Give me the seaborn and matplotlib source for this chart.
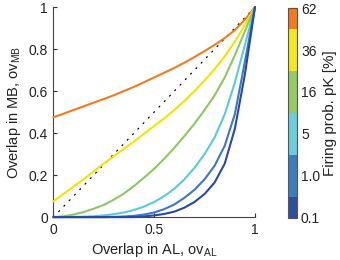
import numpy as np
import pandas as pd
import matplotlib
matplotlib.use("Agg")
import matplotlib.pyplot as plt
import seaborn as sns
from matplotlib.colors import ListedColormap, Normalize
from matplotlib.cm import ScalarMappable

# ---- data ----
ov_al = [0.0, 0.05, 0.1, 0.15, 0.2, 0.25, 0.3, 0.35, 0.4, 0.45, 0.5,
         0.55, 0.6, 0.65, 0.7, 0.75, 0.8, 0.85, 0.9, 0.95, 1.0]

mb_62 = [0.475, 0.492, 0.51, 0.527, 0.545, 0.562, 0.58, 0.60, 0.62, 0.642, 0.665,
         0.687, 0.71, 0.735, 0.762, 0.79, 0.82, 0.852, 0.89, 0.94, 1.0]
mb_36 = [0.075, 0.11, 0.145, 0.18, 0.218, 0.255, 0.29, 0.325, 0.36, 0.397, 0.434,
         0.47, 0.51, 0.553, 0.60, 0.65, 0.705, 0.765, 0.835, 0.915, 1.0]
mb_16 = [0.0, 0.004, 0.012, 0.024, 0.04, 0.058, 0.083, 0.112, 0.148, 0.188, 0.23,
         0.278, 0.33, 0.386, 0.445, 0.51, 0.58, 0.665, 0.77, 0.885, 1.0]
mb_5 = [0.0, 0.0, 0.001, 0.002, 0.004, 0.008, 0.014, 0.022, 0.034, 0.05, 0.072,
        0.10, 0.135, 0.18, 0.235, 0.30, 0.38, 0.49, 0.64, 0.82, 1.0]
mb_1 = [0.0, 0.0, 0.0, 0.0, 0.0, 0.0, 0.001, 0.003, 0.006, 0.012, 0.022,
        0.038, 0.06, 0.092, 0.13, 0.18, 0.245, 0.34, 0.49, 0.74, 1.0]
mb_01 = [0.0, 0.0, 0.0, 0.0, 0.0, 0.0, 0.0, 0.0, 0.0, 0.003, 0.008,
         0.015, 0.026, 0.045, 0.072, 0.11, 0.165, 0.255, 0.42, 0.68, 1.0]

pk_labels = ["62", "36", "16", "5", "1.0", "0.1"]
series = [mb_62, mb_36, mb_16, mb_5, mb_1, mb_01]
line_colors = ["#F47A20", "#F2E400", "#8CC864", "#5EC8DC", "#3A78C2", "#2A48A6"]

diag_x = [0.0, 1.0]
diag_y = [0.0, 1.0]

x_ticks = [0, 0.5, 1]
x_ticklabels = ["0", "0.5", "1"]
y_ticks = [0, 0.2, 0.4, 0.6, 0.8, 1]
y_ticklabels = ["0", "0.2", "0.4", "0.6", "0.8", "1"]

# ---- build table ----
rows = []
for lab, vals in zip(pk_labels, series):
    for x, y in zip(ov_al, vals):
        rows.append({"ov_AL": x, "ov_MB": y, "pK": lab})
df = pd.DataFrame(rows)

sns.set_style("ticks")
plt.rcParams["font.family"] = ["Liberation Sans", "DejaVu Sans"]
plt.rcParams["mathtext.default"] = "regular"
plt.rcParams["font.size"] = 10

fig = plt.figure(figsize=(3.4, 2.6), dpi=100)
ax = fig.add_axes([0.157, 0.165, 0.593, 0.808])

ax.plot(diag_x, diag_y, color="black", lw=0.9, dashes=(0.9, 5.2),
        dash_capstyle="round", zorder=1)

sns.lineplot(data=df, x="ov_AL", y="ov_MB", hue="pK", hue_order=pk_labels,
             palette=line_colors, lw=1.5, legend=False, errorbar=None,
             ax=ax, clip_on=False, zorder=3)

ax.set_xlim(0, 1)
ax.set_ylim(0, 1)
ax.set_xticks(x_ticks)
ax.set_xticklabels(x_ticklabels)
ax.set_yticks(y_ticks)
ax.set_yticklabels(y_ticklabels)
ax.tick_params(direction="in", length=3, width=0.8, colors="#333333",
               labelcolor="#222222", labelsize=10, pad=4)
for s in ["top", "right"]:
    ax.spines[s].set_visible(False)
for s in ["left", "bottom"]:
    ax.spines[s].set_color("#444444")
    ax.spines[s].set_linewidth(0.8)
ax.set_xlabel("Overlap in AL, ov$_{AL}$", fontsize=10.5, color="#222222", labelpad=3)
ax.set_ylabel("Overlap in MB, ov$_{MB}$", fontsize=10.5, color="#222222", labelpad=4)

# ---- colorbar ----
cb_colors = ["#2D4EA2", "#3D7CC0", "#6CCCDC", "#96C864", "#F5E61E", "#F47A20"]
cmap = ListedColormap(cb_colors)
cax = fig.add_axes([0.848, 0.162, 0.025, 0.807])
sm = ScalarMappable(norm=Normalize(0, 5), cmap=cmap)
cbar = fig.colorbar(sm, cax=cax, boundaries=[0, 0.5, 1.5, 2.5, 3.5, 4.5, 5],
                    values=[0, 1, 2, 3, 4, 5], spacing="proportional")
cbar.set_ticks([0, 1, 2, 3, 4, 5])
cbar.set_ticklabels(pk_labels[::-1])
cbar.outline.set_edgecolor("#555555")
cbar.outline.set_linewidth(0.8)
cax.tick_params(direction="in", length=2.5, width=0.8, colors="#333333",
                labelcolor="#222222", labelsize=10, left=True, right=True, pad=3)
cbar.set_label("Firing prob. pK [%]", fontsize=11, color="#222222", labelpad=2)

fig.savefig("out.png", dpi=100)
